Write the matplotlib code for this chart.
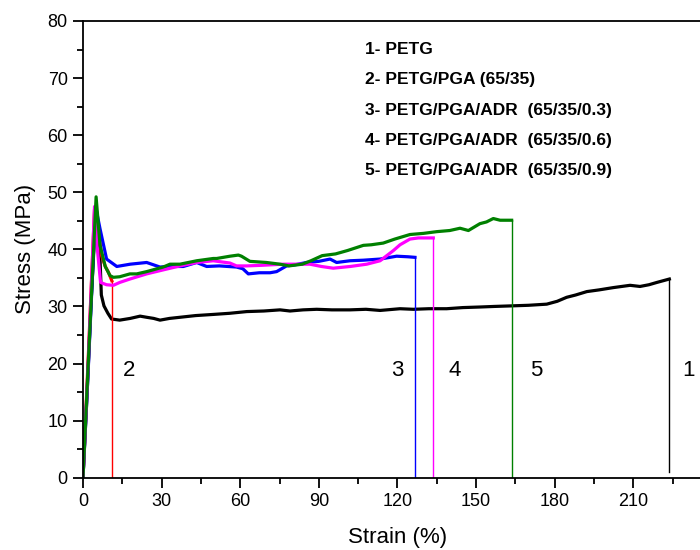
import matplotlib
matplotlib.use('Agg')
import matplotlib.pyplot as plt
from matplotlib.ticker import MultipleLocator

plt.rcParams['font.family'] = ['Liberation Sans', 'DejaVu Sans']

# sample names (legend text block)
names = ['1- PETG',
         '2- PETG/PGA (65/35)',
         '3- PETG/PGA/ADR  (65/35/0.3)',
         '4- PETG/PGA/ADR  (65/35/0.6)',
         '5- PETG/PGA/ADR  (65/35/0.9)']
colors = ['black', 'red', 'blue', 'magenta', 'green']
curve_ids = ['1', '2', '3', '4', '5']
x_ticks = [0, 30, 60, 90, 120, 150, 180, 210]

# stress-strain curves (strain %, stress MPa)
petg_x = [0, 1.5, 3, 4.6, 5.5, 6.5, 7, 8, 9.5, 10.9, 14, 18, 21.8, 24.3, 27, 29.4, 33, 37, 43,
          49.7, 56, 62.5, 69, 75.2, 79, 84, 89.2, 95, 101.9, 108, 113.4, 121, 126.1, 132,
          138.8, 145, 151.5, 157, 163.6, 170, 177, 181, 184.6, 188, 192.3, 197, 202.4,
          208.8, 212.6, 216, 219, 223.8]
petg_y = [0, 14, 30, 44.0, 42.5, 38.3, 32, 30.1, 28.8, 27.8, 27.6, 27.9, 28.3, 28.1, 27.9, 27.6,
          27.9, 28.1, 28.4, 28.6, 28.8, 29.1, 29.2, 29.4, 29.2, 29.4, 29.5, 29.4, 29.4, 29.5,
          29.3, 29.6, 29.5, 29.6, 29.6, 29.8, 29.9, 30.0, 30.1, 30.2, 30.4, 30.9, 31.6, 32.0,
          32.6, 32.9, 33.3, 33.7, 33.5, 33.8, 34.2, 34.8]

pga_x = [0, 2, 4.4, 5.5, 7.1, 8.5, 9.7, 11]
pga_y = [0, 21, 47.0, 44.5, 38.9, 37.0, 36.0, 34.5]

adr03_x = [0, 2, 4.8, 6.5, 9, 12.9, 18, 24.3, 29.4, 33, 38.3, 43.4, 47.2, 52, 58.6, 61, 63.1,
           67.3, 71.4, 73.9, 77.7, 81, 85.3, 90, 94.3, 96.8, 101.9, 107, 113.4, 119.7, 124,
           126.7]
adr03_y = [0, 19, 47.5, 43.6, 38.3, 37.0, 37.4, 37.7, 36.9, 37.0, 37.0, 37.7, 37.0, 37.1, 36.9,
           36.6, 35.7, 35.9, 35.9, 36.1, 37.1, 37.3, 37.7, 37.9, 38.3, 37.7, 38.0, 38.1, 38.3,
           38.8, 38.7, 38.6]

adr06_x = [0, 2, 4.4, 5.5, 6.7, 9, 11.6, 14, 17.9, 24.3, 30.6, 37, 43.4, 49.7, 56.1, 58.6, 62.5,
           68, 76.5, 86.6, 91, 95.5, 102, 108.3, 113.4, 118.5, 121, 124.8, 128, 133.7]
adr06_y = [0, 20, 47.5, 40, 34.2, 33.8, 33.7, 34.2, 34.8, 35.7, 36.4, 37.1, 37.7, 38.0, 37.6,
           37.1, 37.1, 37.2, 37.4, 37.4, 37.0, 36.7, 37.0, 37.4, 38.0, 39.8, 40.8, 41.8, 42.0,
           42.0]

adr09_x = [0, 2, 5.0, 6.5, 8.5, 10.3, 11.6, 14, 17.9, 20.5, 24.3, 30.6, 33.2, 37, 43.4, 49.7,
           51, 56.1, 59.3, 60.5, 63.7, 70, 75.2, 78.6, 83.7, 87, 91.3, 96.4, 101, 107, 110,
           114.6, 119, 124.8, 130, 135, 140, 143.9, 147.1, 151.5, 154, 156.6, 159.2, 163.6]
adr09_y = [0, 20, 49.2, 40.7, 37.0, 35.4, 35.1, 35.2, 35.7, 35.7, 36.1, 36.9, 37.4, 37.4, 38.0,
           38.4, 38.4, 38.8, 39.0, 38.8, 37.9, 37.7, 37.4, 37.1, 37.4, 38.0, 38.9, 39.2, 39.8,
           40.7, 40.8, 41.1, 41.8, 42.6, 42.8, 43.1, 43.3, 43.7, 43.3, 44.5, 44.8, 45.4, 45.1,
           45.1]

# stress at bottom of the fracture drop
drop_bottom = [1.0, 0, 0, 0, 0]

curves = [(petg_x, petg_y), (pga_x, pga_y), (adr03_x, adr03_y),
          (adr06_x, adr06_y), (adr09_x, adr09_y)]

fig = plt.figure(figsize=(7, 5.5), dpi=100)
ax = fig.add_axes([83 / 700, 1 - 477.7 / 550, 628.8 / 700, 456.7 / 550])

for (x, y), c, yb in zip(curves, colors, drop_bottom):
    ax.plot(x, y, color=c, lw=2.3, solid_joinstyle='round')
    ax.plot([x[-1], x[-1]], [y[-1], yb], color=c, lw=1.0)

# curve numbers beside the fracture lines
offsets = [(4.8, 'left'), (4.2, 'left'), (-4.4, 'right'), (5.9, 'left'), (7.0, 'left')]
for (x, y), cid, (dx, ha) in zip(curves, curve_ids, offsets):
    ax.text(x[-1] + dx, 18.7, cid, fontsize=16, ha=ha, va='center')

# sample list
for i, nm in enumerate(names):
    ax.text(107.6, 75.0 - 5.3 * i, nm, fontsize=12.5, fontweight='bold', va='center')

ax.set_xlim(0, 240)
ax.set_ylim(0, 80)
ax.set_xticks(x_ticks)
ax.xaxis.set_minor_locator(MultipleLocator(15))
ax.yaxis.set_major_locator(MultipleLocator(10))
ax.yaxis.set_minor_locator(MultipleLocator(5))
ax.tick_params(which='major', direction='out', length=7, width=1.3, labelsize=13, pad=4)
ax.tick_params(which='minor', direction='out', length=4, width=1.3)
for s in ax.spines.values():
    s.set_linewidth(1.3)

ax.set_xlabel('Strain (%)', fontsize=16)
ax.set_ylabel('Stress (MPa)', fontsize=16)
ax.xaxis.set_label_coords(0.5, -0.108)
ax.yaxis.set_label_coords(-0.075, 0.5)

fig.savefig('out.png', dpi=100)
